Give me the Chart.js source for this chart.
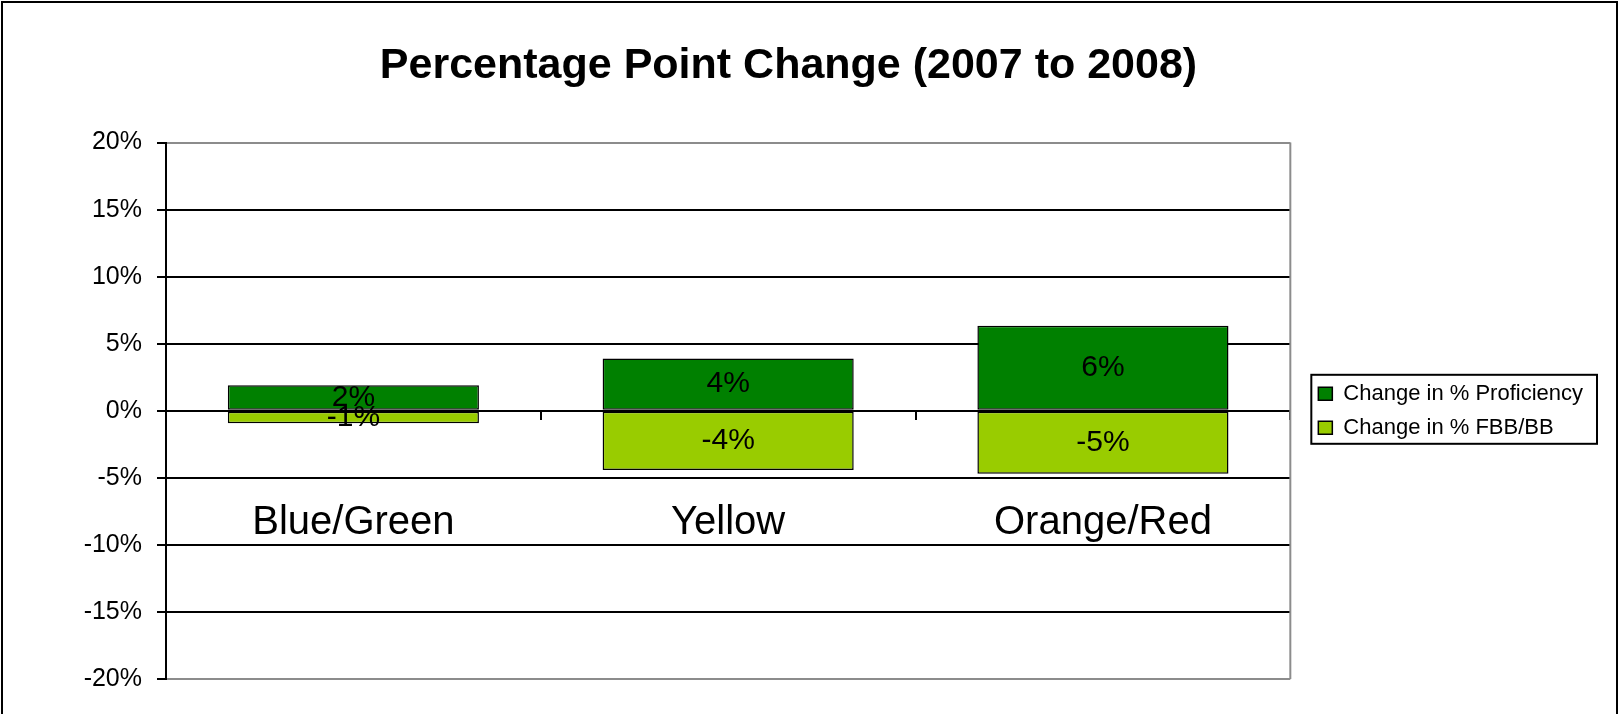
<!DOCTYPE html>
<html lang="en">
<head>
    <meta charset="utf-8">
    <script src="https://cdn.jsdelivr.net/npm/chart.js"></script>
    <style>
        body { margin: 0; background: #ffffff; }
        #wrap { width: 1618px; height: 714px; }
    </style>
</head>
<body>
    <div id="wrap">
        <canvas id="pointChange" width="1618" height="714"></canvas>
    </div>

    <script>
        // values (percentage points)
        const categories = ['Blue/Green', 'Yellow', 'Orange/Red'];
        const proficiencyChange = [1.9, 3.9, 6.35];
        const fbbChange = [-0.92, -4.42, -4.69];
        const seriesNames = ['Change in % Proficiency', 'Change in % FBB/BB'];
        const yMin = -20, yMax = 20, yStep = 5;

        Chart.defaults.font.family = "'Liberation Sans', Arial, sans-serif";
        Chart.defaults.color = '#000';

        // value labels in the middle of each bar
        const barLabels = {
            id: 'barLabels',
            afterDatasetsDraw(chart) {
                const ctx = chart.ctx;
                ctx.save();
                ctx.font = "30px 'Liberation Sans', Arial, sans-serif";
                ctx.fillStyle = '#000';
                ctx.textAlign = 'center';
                ctx.textBaseline = 'middle';
                chart.data.datasets.forEach((ds, i) => {
                    chart.getDatasetMeta(i).data.forEach((bar, j) => {
                        const p = bar.getCenterPoint();
                        ctx.fillText(Math.round(ds.data[j]) + '%', p.x, p.y);
                    });
                });
                ctx.restore();
            }
        };

        // outer frame, plot border on the right, box round the legend
        const frames = {
            id: 'frames',
            afterLayout(chart) {
                // leave a small gap between plot and legend
                chart.legend.left += 16;
                chart.legend.right += 16;
            },
            afterDraw(chart) {
                const ctx = chart.ctx;
                const a = chart.chartArea;
                ctx.save();
                ctx.strokeStyle = '#8c8c8c';
                ctx.lineWidth = 2;
                ctx.beginPath();
                ctx.moveTo(a.right, a.top);
                ctx.lineTo(a.right, a.bottom);
                ctx.stroke();

                ctx.strokeStyle = '#000';
                ctx.strokeRect(2, 2, 1615, 760);

                const lg = chart.legend;
                const hb = lg.legendHitBoxes;
                if (hb && hb.length) {
                    const last = hb[hb.length - 1];
                    const x0 = lg.left + 5, x1 = lg.right + 4;
                    const y0 = hb[0].top - 8, y1 = last.top + last.height + 5;
                    ctx.strokeRect(x0, y0, x1 - x0, y1 - y0);
                }
                ctx.restore();
            }
        };

        new Chart(document.getElementById('pointChange'), {
            type: 'bar',
            data: {
                labels: categories,
                datasets: [
                    {
                        label: seriesNames[0],
                        data: proficiencyChange,
                        backgroundColor: '#008000',
                        borderColor: '#000',
                        borderWidth: 1.5,
                        borderSkipped: false,
                        barPercentage: 0.67,
                        categoryPercentage: 1.0
                    },
                    {
                        label: seriesNames[1],
                        data: fbbChange,
                        backgroundColor: '#99cc00',
                        borderColor: '#000',
                        borderWidth: 1.5,
                        borderSkipped: false,
                        barPercentage: 0.67,
                        categoryPercentage: 1.0
                    }
                ]
            },
            options: {
                responsive: false,
                animation: false,
                layout: { padding: { left: 0, right: 41, top: 0, bottom: 35 } },
                plugins: {
                    title: {
                        display: true,
                        text: 'Percentage Point Change (2007 to 2008)',
                        font: { size: 43, weight: 'bold' },
                        color: '#000',
                        padding: { top: 40, bottom: 51 }
                    },
                    legend: {
                        position: 'right',
                        align: 'center',
                        fullSize: false,
                        labels: {
                            boxWidth: 14,
                            boxHeight: 13,
                            padding: 12,
                            font: { size: 22 },
                            color: '#000'
                        }
                    },
                    tooltip: { enabled: false }
                },
                scales: {
                    x: {
                        stacked: true,
                        position: { y: 0 },
                        offset: true,
                        grid: {
                            drawOnChartArea: false,
                            offset: true,
                            tickLength: 8,
                            color: '#000',
                            lineWidth: 2
                        },
                        border: { color: '#000', width: 2 },
                        ticks: {
                            font: { size: 40 },
                            color: '#000',
                            padding: 80,
                            maxRotation: 0
                        }
                    },
                    y: {
                        stacked: true,
                        min: yMin,
                        max: yMax,
                        afterFit: s => { s.width = 166; },
                        grid: {
                            color: c => (c.tick && Math.abs(c.tick.value) === yMax) ? '#8c8c8c' : '#000',
                            lineWidth: 2,
                            tickLength: 9,
                            tickColor: '#000'
                        },
                        border: { color: '#000', width: 2 },
                        ticks: {
                            stepSize: yStep,
                            padding: 15,
                            font: { size: 25 },
                            color: '#000',
                            callback: v => v + '%'
                        }
                    }
                }
            },
            plugins: [barLabels, frames]
        });
    </script>
</body>
</html>
